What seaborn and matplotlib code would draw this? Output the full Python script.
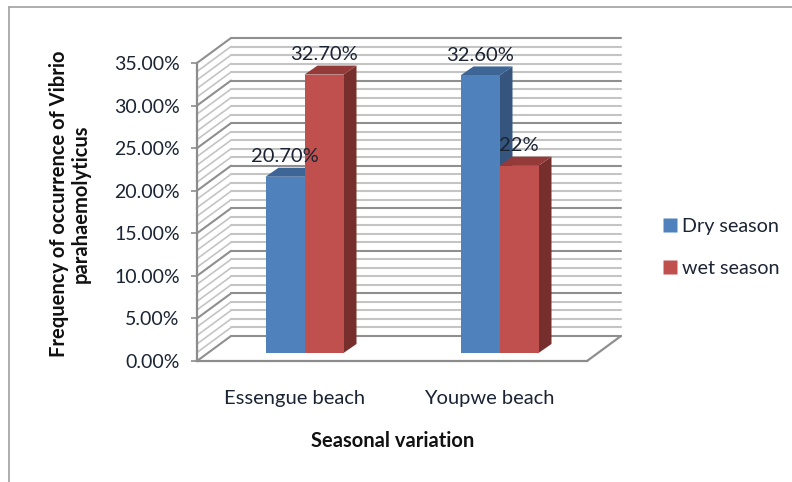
import matplotlib
matplotlib.use("Agg")
import matplotlib.pyplot as plt
from matplotlib.lines import Line2D
from matplotlib.patches import Polygon
import pandas as pd
import seaborn as sns

# Survey results
beaches = ["Essengue beach", "Youpwe beach"]
seasons = ["Dry season", "wet season"]
dry_values = [20.7, 32.6]
wet_values = [32.7, 22.0]
dry_labels = ["20.70%", "32.60%"]
wet_labels = ["32.70%", "22%"]
y_ticks = [0, 5, 10, 15, 20, 25, 30, 35]
y_tick_labels = ["0.00%", "5.00%", "10.00%", "15.00%", "20.00%", "25.00%", "30.00%", "35.00%"]
minor_ticks = [v for v in range(36) if v % 5]

season_colors = ["#4f81bd", "#c0504d"]
side_colors = ["#35557f", "#772f2d"]
top_colors = ["#3d6596", "#943b39"]
text_color = "#1b2433"
major_grid = "#8f8f8f"
minor_grid = "#c4c4c4"

W, H = 792, 482
PX_PER_PCT = 298 / 35
PX_PER_CAT = 195

sns.set_theme(style="white")
plt.rcParams["font.family"] = ["Lato", "DejaVu Sans"]

fig = plt.figure(figsize=(W / 100, H / 100), dpi=100)


def plane_axes(left, baseline):
    """Axes covering one depth plane of the 3-D box, given in pixels."""
    a = fig.add_axes([left / W, (H - baseline) / H, 390 / W, 298 / H])
    a.set_xlim(-0.5, 1.5)
    a.set_ylim(0, 35)
    a.patch.set_alpha(0)
    for s in a.spines.values():
        s.set_visible(False)
    return a


ax_back = plane_axes(231, 336)
ax_front = plane_axes(197, 361)
ax_bars = plane_axes(207, 353)

# Back wall gridlines
ax_back.set_xticks([])
ax_back.set_yticks(y_ticks)
ax_back.set_yticks(minor_ticks, minor=True)
ax_back.tick_params(which="both", length=0, labelleft=False)
ax_back.grid(True, which="major", axis="y", color=major_grid, lw=1.5, clip_on=False)
ax_back.grid(True, which="minor", axis="y", color=minor_grid, lw=1.5, clip_on=False)

# Side wall and floor, expressed in the front plane's data units
wall_dx = 34 / PX_PER_CAT
wall_dy = 25 / PX_PER_PCT
for v in minor_ticks + y_ticks:
    ax_front.plot([-0.5, -0.5 + wall_dx], [v, v + wall_dy],
                  color=major_grid if v % 5 == 0 else minor_grid,
                  lw=1.5 if v % 5 == 0 else 1.2, clip_on=False, zorder=1)
ax_front.plot([1.5, 1.5 + wall_dx], [0, wall_dy], color=major_grid, lw=1.6, clip_on=False)

ax_front.spines["left"].set_visible(True)
ax_front.spines["bottom"].set_visible(True)
ax_front.spines["left"].set_color("#8c8c8c")
ax_front.spines["bottom"].set_color("#8c8c8c")
ax_front.spines["left"].set_linewidth(1.6)
ax_front.spines["bottom"].set_linewidth(1.6)
ax_front.set_yticks(y_ticks, y_tick_labels)
ax_front.set_xticks([0, 1], beaches)
ax_front.tick_params(axis="y", length=4.5, width=1.2, color="#8c8c8c", left=True,
                     labelsize=14, labelcolor=text_color, pad=8)
ax_front.tick_params(axis="x", length=0, labelsize=14.5, labelcolor=text_color, pad=21)

# Front faces of the columns
frame = pd.DataFrame({
    "beach": beaches * 2,
    "season": [seasons[0]] * 2 + [seasons[1]] * 2,
    "value": dry_values + wet_values,
})
sns.barplot(data=frame, x="beach", y="value", hue="season", hue_order=seasons,
            palette=season_colors, width=0.4, gap=0, saturation=1, errorbar=None,
            linewidth=0, edgecolor="none", ax=ax_bars, zorder=3, legend=False)
ax_bars.set_xlim(-0.5, 1.5)
ax_bars.set_ylim(0, 35)
ax_bars.set_xlabel("")
ax_bars.set_ylabel("")
ax_bars.set_xticks([])
ax_bars.set_yticks([])

# Side and top faces, then the value labels
depth_x = 13 / PX_PER_CAT
depth_y = 9 / PX_PER_PCT
labels = dry_labels + wet_labels
for i, bar in enumerate(ax_bars.patches[:4]):
    s = i // 2
    x0, x1 = bar.get_x(), bar.get_x() + bar.get_width()
    h = bar.get_height()
    order = 2 + (0.5 if s == 1 else 0)
    ax_bars.add_patch(Polygon([(x1, 0), (x1 + depth_x, depth_y), (x1 + depth_x, h + depth_y), (x1, h)],
                              closed=True, fc=side_colors[s], ec="none", zorder=order, clip_on=False))
    ax_bars.add_patch(Polygon([(x0, h), (x0 + depth_x, h + depth_y), (x1 + depth_x, h + depth_y), (x1, h)],
                              closed=True, fc=top_colors[s], ec="none", zorder=order, clip_on=False))
    ax_bars.annotate(labels[i], (bar.get_x() + bar.get_width() / 2, h), xytext=(0, 14.5), textcoords="offset points",
                     ha="center", va="center", fontsize=14.5, color=text_color, zorder=6,
                     annotation_clip=False)

# Axis titles
fig.text(69.5 / W, 1 - 204 / H, "Frequency of occurrence of Vibrio\nparahaemolyticus", rotation=90,
         ha="center", va="center", fontsize=14.5, fontweight="bold", color="#111111", linespacing=1.12)
fig.text(393 / W, 1 - 441 / H, "Seasonal variation", ha="center", va="center",
         fontsize=14.5, fontweight="bold", color="#111111")

# Legend
handles = [Line2D([], [], ls="none", marker="s", ms=10, mfc=c, mec="none") for c in season_colors]
fig.legend(handles, seasons, loc="center left", bbox_to_anchor=(660 / W, 1 - 247.5 / H), frameon=False,
           fontsize=14.2, labelcolor=text_color, handlelength=1, handletextpad=0.1, labelspacing=1.3,
           borderpad=0, borderaxespad=0)

# Outer frame
fig.add_artist(Line2D([9 / W, 9 / W], [0, 1 - 7 / H], color="#a0a0a0", lw=1.2))
fig.add_artist(Line2D([9 / W, 1], [1 - 7 / H, 1 - 7 / H], color="#a0a0a0", lw=1.2))

fig.savefig("out.png", dpi=100, facecolor="white")
